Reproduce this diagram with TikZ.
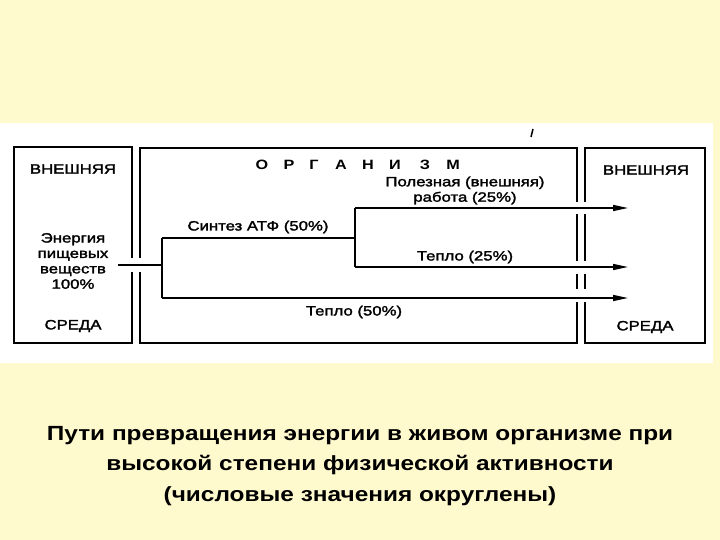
\documentclass[tikz,border=0pt]{standalone}
\usepackage{fontspec}
\setmainfont{Liberation Sans}
\newfontfamily\diafont[FakeStretch=1.24,FakeBold=2]{Liberation Sans}
\newfontfamily\diabold[FakeStretch=1.2]{Liberation Sans Bold}
\newfontfamily\capfont[FakeStretch=1.19]{Liberation Sans Bold}
\usetikzlibrary{arrows.meta}
\definecolor{bgyellow}{RGB}{255,250,206}
\tikzset{
  frame/.style={line width=1.8pt, line cap=rect},
  flow/.style={line width=1.4pt},
  flowarrow/.style={flow, -{Triangle[length=15pt,width=6pt]}},
  lbl/.style={inner sep=0pt, font=\diafont\fontsize{13.5}{15.4}\selectfont, align=center},
  head/.style={inner sep=0pt, font=\diafont\fontsize{13.5}{15.4}\selectfont},
  orgletter/.style={inner sep=0pt, font=\diabold\fontsize{13.5}{15}\selectfont},
  caption/.style={inner sep=0pt, font=\capfont\fontsize{20.5}{30.5}\selectfont, align=center}
}
\begin{document}
\begin{tikzpicture}[x=1pt,y=-1pt]
\useasboundingbox (0,0) rectangle (720,540);
\fill[bgyellow] (0,0) rectangle (720,540);
\fill[white] (0,123) rectangle (713,363);

% left box (external environment)
\draw[frame] (132,257) -- (132,147) -- (14,147) -- (14,343) -- (132,343) -- (132,273);
% organism box
\draw[frame] (140,257) -- (140,148) -- (577,148) -- (577,201);
\draw[frame] (577,215) -- (577,260);
\draw[frame] (577,275) -- (577,288);
\draw[frame] (577,303) -- (577,343) -- (140,343) -- (140,273);
% right box
\draw[frame] (585,201) -- (585,148) -- (705,148) -- (705,343) -- (585,343) -- (585,303);
\draw[frame] (585,215) -- (585,260);
\draw[frame] (585,275) -- (585,288);

% stray mark
\draw[line width=1.5pt] (531,137) -- (533,129);

% texts
\node[head] (lext) at (73,169) {ВНЕШНЯЯ};
\node[lbl] (food) at (73,261) {Энергия\\пищевых\\веществ\\100\%};
\node[head] (lenv) at (73,326) {СРЕДА};
\node[head] (rext) at (646,170) {ВНЕШНЯЯ};
\node[head] (renv) at (645,327) {СРЕДА};

\foreach \ch/\xx [count=\i] in {О/262,Р/289,Г/314,А/341,Н/368,И/395,З/425,М/453}
  \node[orgletter] (org\i) at (\xx,165) {\ch};

\node[lbl] (atp) at (258,227) {Синтез АТФ (50\%)};
\node[lbl] (work) at (465,190.5) {Полезная (внешняя)\\работа (25\%)};
\node[lbl] (heat25) at (465,257) {Тепло (25\%)};
\node[lbl] (heat50) at (354,312) {Тепло (50\%)};

% connector coordinates
\coordinate (in) at (118,265);
\coordinate (sp1) at (162,265);
\coordinate (sp1t) at (162,238);
\coordinate (sp1b) at (162,298);
\coordinate (sp2) at (355,238);
\coordinate (sp2t) at (355,208);
\coordinate (sp2b) at (355,267);
\coordinate (e1) at (628,208);
\coordinate (e2) at (628,267);
\coordinate (e3) at (628,298);

\draw[flow] (in) -- (sp1);
\draw[flow] (sp1t) -- (sp1b);
\draw[flow] (sp1t) -- (sp2);
\draw[flow] (sp2t) -- (sp2b);
\draw[flowarrow] (sp2t) -- (e1);
\draw[flowarrow] (sp2b) -- (e2);
\draw[flowarrow] (sp1b) -- (e3);

% caption
\node[caption] (cap) at (360,466) {Пути превращения энергии в живом организме при\\высокой степени физической активности\\(числовые значения округлены)};
\end{tikzpicture}
\end{document}
